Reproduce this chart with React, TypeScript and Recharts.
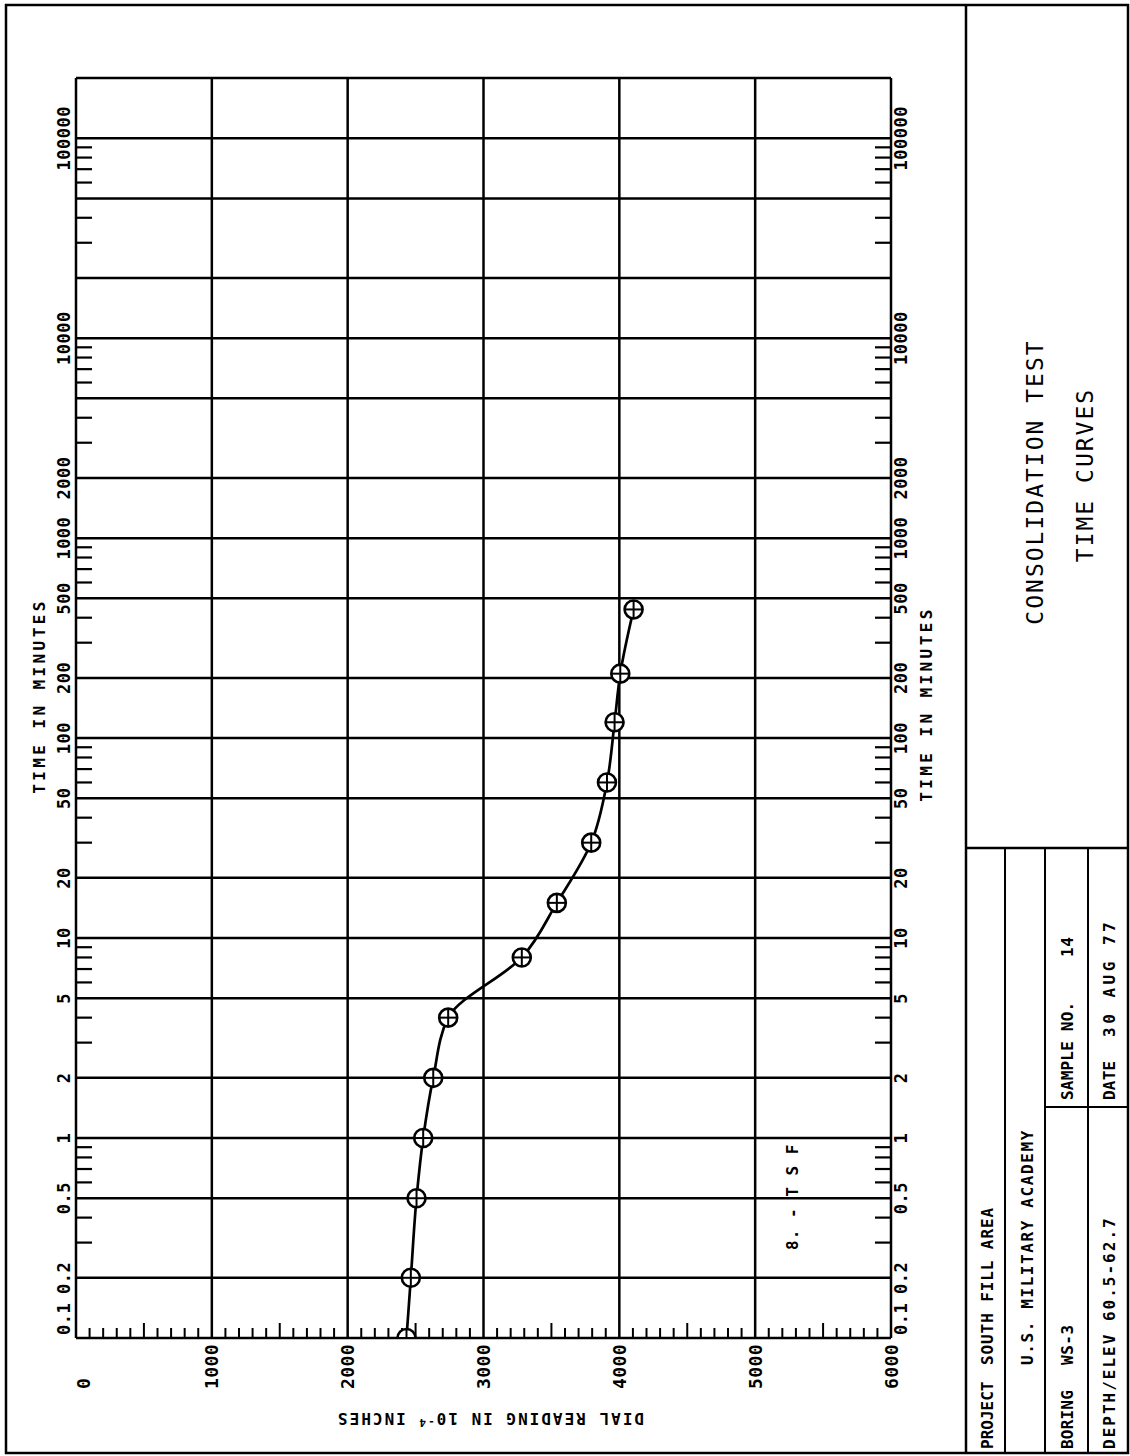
import React from 'react';
import { LineChart, Line, XAxis, YAxis, CartesianGrid } from 'recharts';

// ---- data (time in minutes vs dial reading in 1e-4 inches) ----
const timeMinutes = [0.1, 0.2, 0.5, 1, 2, 4, 8, 15, 30, 60, 120, 210, 440];
const dialReading = [2433, 2465, 2507, 2556, 2630, 2740, 3282, 3540, 3793, 3909, 3965, 4007, 4105];

// ---- axes ----
const timeGridTicks = [0.1, 0.2, 0.5, 1, 2, 5, 10, 20, 50, 100, 200, 500, 1000, 2000, 5000, 10000, 20000, 50000, 100000, 200000];
const labeledTimes = [0.1, 0.2, 0.5, 1, 2, 5, 10, 20, 50, 100, 200, 500, 1000, 2000, 10000, 100000];
const timeLabels = ['0.1', '0.2', '0.5', '1', '2', '5', '10', '20', '50', '100', '200', '500', '1000', '2000', '10000', '100000'];
const minorTimeTicks = [
  0.3, 0.4, 0.6, 0.7, 0.8, 0.9,
  3, 4, 6, 7, 8, 9,
  30, 40, 60, 70, 80, 90,
  300, 400, 600, 700, 800, 900,
  3000, 4000, 6000, 7000, 8000, 9000,
  30000, 40000, 60000, 70000, 80000, 90000,
];

const dialTicks = [0, 1000, 2000, 3000, 4000, 5000, 6000];
const dialHalfTicks = [500, 1500, 2500, 3500, 4500, 5500];
const dialMinorTicks = [100, 200, 300, 400, 600, 700, 800, 900, 1100, 1200, 1300, 1400, 1600, 1700, 1800, 1900,
  2100, 2200, 2300, 2400, 2600, 2700, 2800, 2900, 3100, 3200, 3300, 3400, 3600, 3700, 3800, 3900,
  4100, 4200, 4300, 4400, 4600, 4700, 4800, 4900, 5100, 5200, 5300, 5400, 5600, 5700, 5800, 5900];

// ---- text ----
const titleLines = ['CONSOLIDATION TEST', 'TIME CURVES'];
const loadLabel = '8.  -  T S F';
const timeAxisTitle = 'TIME IN MINUTES';
const projectName = 'SOUTH FILL AREA';
const agency = 'U.S. MILITARY ACADEMY';
const boring = 'WS-3';
const sampleNo = '14';
const depthElev = '60.5-62.7';
const testDate = '30 AUG 77';

const data = timeMinutes.map((t, i) => ({ t, dial: dialReading[i] }));

const INK = '#000';
const mono = '"DejaVu Sans Mono", "Liberation Mono", monospace';
const boldText = { fontFamily: mono, fontWeight: 700, fill: INK } as const;

const TimeTick = (props: any) => {
  const { x, payload, labelY } = props;
  const idx = labeledTimes.indexOf(payload.value);
  if (idx < 0) return null;
  const first = idx === 0;
  return (
    <text x={first ? x + 3 : x} y={labelY} textAnchor={first ? 'start' : 'middle'} fontSize={17} letterSpacing={0.5} style={boldText}>
      {timeLabels[idx]}
    </text>
  );
};

const DialTick = (props: any) => {
  const { y, payload } = props;
  const shift = payload.value === 0 ? 7 : 0;
  return (
    <text x={67} y={y + shift} dominantBaseline="central" textAnchor="start" fontSize={18} letterSpacing={0.4} style={boldText}>
      {String(payload.value)}
    </text>
  );
};

const NoLabel = () => <g />;

const CrossDot = (props: any) => {
  const { cx, cy } = props;
  if (cx == null || cy == null) return null;
  const r = 9;
  return (
    <g>
      <circle cx={cx} cy={cy} r={r} fill="#fff" stroke={INK} strokeWidth={2.6} />
      <line x1={cx - r} x2={cx + r} y1={cy} y2={cy} stroke={INK} strokeWidth={2} />
      <line x1={cx} x2={cx} y1={cy - r} y2={cy + r} stroke={INK} strokeWidth={2} />
    </g>
  );
};

const W = 1456;
const H = 1130;

const Overlay = () => (
  <svg width={W} height={H} style={{ position: 'absolute', left: 0, top: 0, pointerEvents: 'none' }}>
    {/* page border */}
    <rect x={3} y={6} width={1448} height={1122} fill="none" stroke={INK} strokeWidth={2.5} />
    {/* title block */}
    <line x1={3} x2={1451} y1={966} y2={966} stroke={INK} strokeWidth={2.5} />
    <line x1={608} x2={608} y1={966} y2={1128} stroke={INK} strokeWidth={2.5} />
    <line x1={3} x2={608} y1={1005} y2={1005} stroke={INK} strokeWidth={2} />
    <line x1={3} x2={608} y1={1045} y2={1045} stroke={INK} strokeWidth={2} />
    <line x1={3} x2={608} y1={1088} y2={1088} stroke={INK} strokeWidth={2} />
    <line x1={349} x2={349} y1={1045} y2={1128} stroke={INK} strokeWidth={2} />

    <text x={974} y={1043} textAnchor="middle" fontSize={23} letterSpacing={2} style={{ fontFamily: mono, fill: INK }}>{titleLines[0]}</text>
    <text x={981} y={1093} textAnchor="middle" fontSize={23} letterSpacing={2} style={{ fontFamily: mono, fill: INK }}>{titleLines[1]}</text>

    <g fontSize={16} style={boldText}>
      <text x={7} y={993} letterSpacing={0}>PROJECT</text>
      <text x={91} y={993} letterSpacing={0.9}>{projectName}</text>
      <text x={91} y={1033} letterSpacing={1.6}>{agency}</text>
      <text x={7} y={1073} letterSpacing={0.2}>BORING</text>
      <text x={91} y={1073} letterSpacing={0.5}>{boring}</text>
      <text x={356} y={1073} letterSpacing={0.2}>SAMPLE NO.</text>
      <text x={499} y={1073} letterSpacing={0.5}>{sampleNo}</text>
      <text x={7} y={1115} letterSpacing={2}>{'DEPTH/ELEV ' + depthElev}</text>
      <text x={356} y={1115} letterSpacing={0.2}>DATE</text>
      <text x={419} y={1115} letterSpacing={3.5}>{testDate}</text>
    </g>

    {/* axis titles */}
    <text x={760} y={45} textAnchor="middle" fontSize={16} letterSpacing={3.4} style={boldText}>{timeAxisTitle}</text>
    <text x={752} y={932} textAnchor="middle" fontSize={16} letterSpacing={3.4} style={boldText}>{timeAxisTitle}</text>
    <text x={43} y={490} textAnchor="middle" fontSize={16} letterSpacing={2} transform="rotate(-90, 43, 490)" style={boldText}>
      <tspan>DIAL READING IN 10</tspan>
      <tspan dy={-6} fontSize={11}>-4</tspan>
      <tspan dy={6}> INCHES</tspan>
    </text>

    {/* load increment note */}
    <text x={206} y={798} fontSize={16} letterSpacing={1} style={boldText}>{loadLabel}</text>
  </svg>
);

const logAxis = {
  dataKey: 't',
  type: 'number' as const,
  scale: 'log' as const,
  domain: [0.1, 200000],
  allowDataOverflow: true,
  interval: 0 as const,
  height: 1,
};

const dialAxis = {
  dataKey: 'dial',
  type: 'number' as const,
  domain: [0, 6000],
  allowDataOverflow: true,
  reversed: true,
  interval: 0 as const,
  width: 1,
};

export default function App() {
  return (
    <div style={{ position: 'absolute', left: 0, top: 0, width: 1130, height: 1456, overflow: 'hidden', background: '#fff' }}>
      <div
        style={{
          position: 'absolute',
          left: 0,
          top: 0,
          width: W,
          height: H,
          transformOrigin: '0 0',
          transform: 'translate(0px, 1456px) rotate(-90deg)',
        }}
      >
        <LineChart width={W} height={H} data={data} margin={{ top: 75, right: 78, bottom: 238, left: 117 }}>
          <CartesianGrid stroke={INK} strokeWidth={2.5} fill="none" />
          <XAxis
            {...logAxis}
            xAxisId={0}
            ticks={timeGridTicks}
            orientation="top"
            axisLine={false}
            tickLine={false}
            tick={<TimeTick labelY={70} />}
          />
          <XAxis
            {...logAxis}
            xAxisId="minorTop"
            ticks={minorTimeTicks}
            orientation="top"
            mirror
            axisLine={false}
            tickSize={16}
            tickLine={{ stroke: INK, strokeWidth: 2.2 }}
            tick={NoLabel}
          />
          <XAxis
            {...logAxis}
            xAxisId="timeBottom"
            ticks={timeGridTicks}
            orientation="bottom"
            axisLine={false}
            tickLine={false}
            tick={<TimeTick labelY={907} />}
          />
          <XAxis
            {...logAxis}
            xAxisId="minorBottom"
            ticks={minorTimeTicks}
            orientation="bottom"
            mirror
            axisLine={false}
            tickSize={16}
            tickLine={{ stroke: INK, strokeWidth: 2.2 }}
            tick={NoLabel}
          />
          <YAxis
            {...dialAxis}
            yAxisId={0}
            ticks={dialTicks}
            axisLine={false}
            tickLine={false}
            tick={<DialTick />}
          />
          <YAxis
            {...dialAxis}
            yAxisId="dialMinor"
            ticks={dialMinorTicks}
            mirror
            axisLine={false}
            tickSize={9}
            tickLine={{ stroke: INK, strokeWidth: 2 }}
            tick={NoLabel}
          />
          <YAxis
            {...dialAxis}
            yAxisId="dialHalf"
            ticks={dialHalfTicks}
            mirror
            axisLine={false}
            tickSize={15}
            tickLine={{ stroke: INK, strokeWidth: 2 }}
            tick={NoLabel}
          />
          <Line
            xAxisId={0}
            yAxisId={0}
            dataKey="dial"
            type="monotone"
            stroke={INK}
            strokeWidth={2.7}
            dot={<CrossDot />}
            activeDot={false}
            isAnimationActive={false}
          />
        </LineChart>
        <Overlay />
      </div>
    </div>
  );
}
